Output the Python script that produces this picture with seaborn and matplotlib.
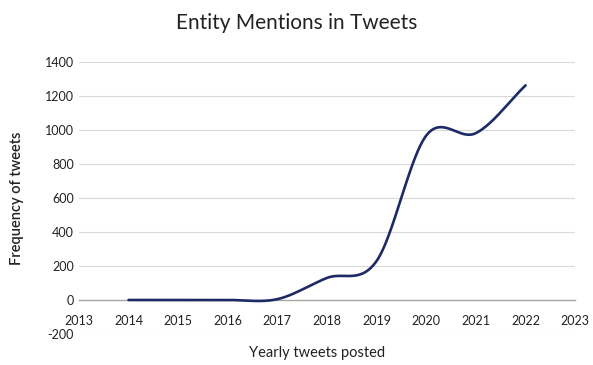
import numpy as np
import pandas as pd
import matplotlib
matplotlib.use("Agg")
import matplotlib.pyplot as plt
import seaborn as sns

# ====================== Data ======================
years = [2014, 2015, 2016, 2017, 2018, 2019, 2020, 2021, 2022]
mentions = [0, 0, 0, 5, 130, 230, 968, 982, 1263]

x_ticks = list(range(2013, 2024))
y_ticks = list(range(-200, 1401, 200))

line_color = '#1c2a66'
grid_color = '#d9d9d9'


# Excel-style smoothed line (Catmull-Rom through the data points)
def smooth_line(xs, ys, steps=40):
    xs = np.asarray(xs, float)
    ys = np.asarray(ys, float)
    px = np.concatenate([[2 * xs[0] - xs[1]], xs, [2 * xs[-1] - xs[-2]]])
    py = np.concatenate([[2 * ys[0] - ys[1]], ys, [2 * ys[-1] - ys[-2]]])
    out_x, out_y = [], []
    for i in range(1, len(px) - 2):
        t = np.linspace(0, 1, steps, endpoint=(i == len(px) - 3))
        for p, out in ((px, out_x), (py, out_y)):
            c1 = p[i] + (p[i + 1] - p[i - 1]) / 6
            c2 = p[i + 1] - (p[i + 2] - p[i]) / 6
            out.extend((1 - t) ** 3 * p[i] + 3 * (1 - t) ** 2 * t * c1
                       + 3 * (1 - t) * t ** 2 * c2 + t ** 3 * p[i + 1])
    return pd.DataFrame({'Year': out_x, 'Mentions': out_y})


curve = smooth_line(years, mentions)

# ====================== Canvas ======================
sns.set_style('white')
plt.rcParams['font.family'] = ['Lato', 'DejaVu Sans']
plt.rcParams['axes.unicode_minus'] = False

fig = plt.figure(figsize=(5.93, 3.65), dpi=100)
ax = fig.add_axes([0.133, 0.085, 0.837, 0.745])

sns.lineplot(data=curve, x='Year', y='Mentions', sort=False,
             color=line_color, linewidth=1.9, ax=ax)

ax.set_xlim(2013, 2023)
ax.set_ylim(-200, 1400)
ax.set_xticks(x_ticks)
ax.set_yticks(y_ticks)
ax.tick_params(axis='both', length=0, labelsize=9, colors='#222222')
ax.tick_params(axis='x', pad=11)

# horizontal gridlines, axis crossing at zero like Excel
for y in y_ticks:
    if y != 0:
        ax.axhline(y, color=grid_color, linewidth=0.8, zorder=0)
for side in ['top', 'right', 'left']:
    ax.spines[side].set_visible(False)
ax.spines['bottom'].set_position(('data', 0))
ax.spines['bottom'].set_color('#a6a6a6')
ax.spines['bottom'].set_linewidth(1.0)
ax.spines['bottom'].set_zorder(1)

ax.set_xlabel('Yearly tweets posted', fontsize=10.5, color='#222222')
ax.xaxis.set_label_coords(0.48, -0.045)
ax.set_ylabel('Frequency of tweets', fontsize=10.5, color='#222222',
              fontweight='semibold')
ax.yaxis.set_label_coords(-0.11, 0.5)

fig.suptitle('Entity Mentions in Tweets', fontsize=15, color='#222222',
             x=0.5, y=0.965)

fig.savefig('out.png', dpi=100)
